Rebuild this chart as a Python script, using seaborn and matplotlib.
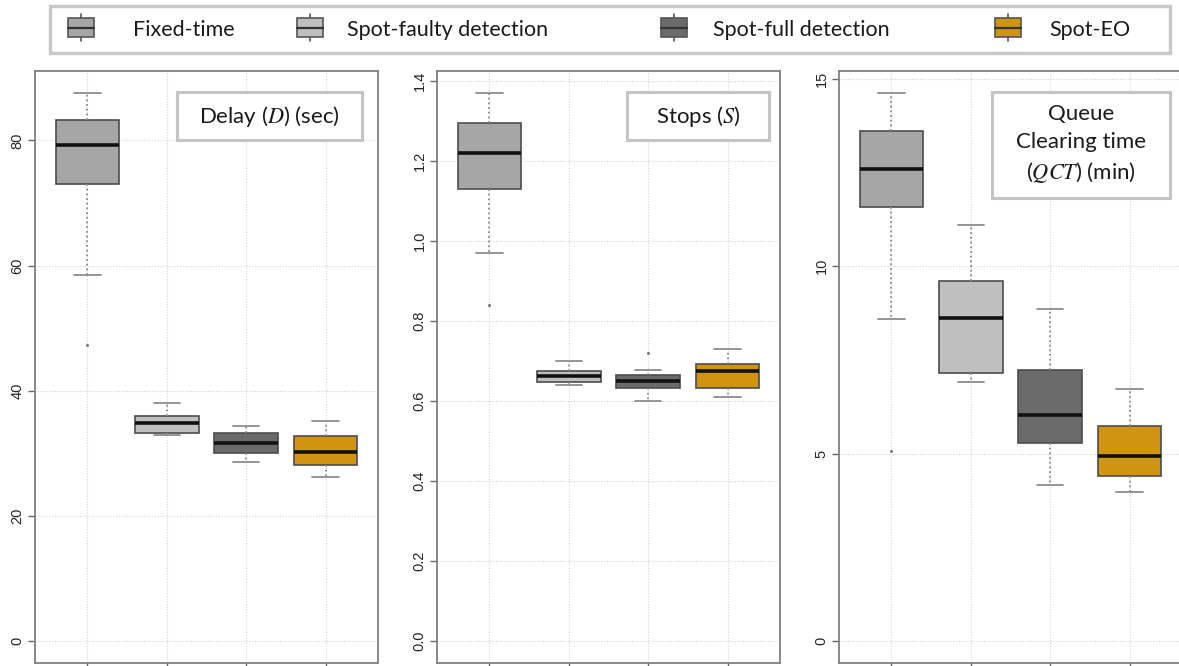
import matplotlib
matplotlib.use("Agg")
import matplotlib.pyplot as plt
from matplotlib.patches import Rectangle
import pandas as pd
import seaborn as sns

# Scenario names and colours
groups = ["Fixed-time", "Spot-faulty detection", "Spot-full detection", "Spot-EO"]
colors = ["#a6a6a6", "#bfbfbf", "#6b6b6b", "#cf950e"]

# Five-number summaries per scenario: [lower whisker, Q1, median, Q3, upper whisker]
delay_summary = [
    [58.5, 73.1, 79.3, 83.2, 87.6],
    [33.0, 33.3, 34.9, 35.9, 38.1],
    [28.6, 30.1, 31.7, 33.2, 34.3],
    [26.3, 28.1, 30.2, 32.8, 35.2],
]
stops_summary = [
    [0.970, 1.128, 1.219, 1.293, 1.369],
    [0.639, 0.648, 0.663, 0.674, 0.700],
    [0.599, 0.632, 0.649, 0.664, 0.678],
    [0.609, 0.632, 0.675, 0.693, 0.729],
]
qct_summary = [
    [8.58, 11.59, 12.60, 13.60, 14.62],
    [6.91, 7.16, 8.63, 9.61, 11.11],
    [4.15, 5.27, 6.02, 7.23, 8.85],
    [3.98, 4.39, 4.94, 5.73, 6.71],
]

# Outlying observations (scenario, value)
delay_outliers = [("Fixed-time", 47.3)]
stops_outliers = [("Fixed-time", 0.839), ("Spot-full detection", 0.719)]
qct_outliers = [("Fixed-time", 5.08)]

# Panel captions and y ticks
delay_title = "Delay ($D$) (sec)"
stops_title = "Stops ($S$)"
qct_title = "Queue\nClearing time\n($QCT$) (min)"
delay_ticks = [0, 20, 40, 60, 80]
stops_ticks = [0.0, 0.2, 0.4, 0.6, 0.8, 1.0, 1.2, 1.4]
qct_ticks = [0, 5, 10, 15]

sns.set_theme(style="white")
plt.rcParams["font.family"] = ["Lato", "DejaVu Sans"]
plt.rcParams["mathtext.fontset"] = "stix"

W, H = 1179, 666
fig = plt.figure(figsize=(W / 100, H / 100), dpi=100)


def long_frame(summary):
    rows = []
    for g, vals in zip(groups, summary):
        for v in vals:
            rows.append({"group": g, "value": v})
    return pd.DataFrame(rows)


def outlier_frame(outliers):
    return pd.DataFrame(outliers, columns=["group", "value"])


def draw_panel(left_px, summary, outliers, ticks, fmt, title, title_box):
    ax = fig.add_axes([left_px / W, 1 - 663 / H, 343 / W, 592 / H])
    df = long_frame(summary)
    sns.boxplot(
        data=df, x="group", y="value", hue="group", order=groups,
        hue_order=groups, palette=colors, saturation=1, legend=False,
        whis=(0, 100), width=0.8, linecolor="#4d4d4d", linewidth=1.2,
        capwidths=0.33, ax=ax,
        medianprops=dict(color="#111111", linewidth=2.6),
        whiskerprops=dict(color="#8c8c8c", linewidth=1.3, linestyle=(0, (1, 1.6))),
        capprops=dict(color="#8c8c8c", linewidth=1.3),
    )
    if outliers:
        sns.stripplot(data=outlier_frame(outliers), x="group", y="value",
                      order=groups, jitter=False, color="#7a7a7a", size=2.2,
                      linewidth=0, ax=ax)
    top = max(max(s) for s in summary)
    ax.set_ylim(-0.04 * top, top * 1.04)
    ax.set_xlim(-0.66, 3.66)
    ax.set_yticks(ticks)
    ax.set_yticklabels([fmt.format(t) for t in ticks], rotation=90,
                       va="center", fontsize=10.5, color="#262626",
                       family="Liberation Sans")
    ax.set_xticks(range(len(groups)))
    ax.set_xticklabels([])
    ax.set_xlabel("")
    ax.set_ylabel("")
    ax.tick_params(axis="both", length=5, width=1, color="#666666",
                   left=True, bottom=True, pad=2.5)
    ax.grid(True, color="#d4d4d4", linestyle=(0, (1, 1.5)), linewidth=0.8)
    ax.set_axisbelow(True)
    for sp in ax.spines.values():
        sp.set_color("#808080")
        sp.set_linewidth(1.3)
    x0, x1, y0, y1 = title_box
    ax.add_patch(Rectangle((x0, y1), x1 - x0, y0 - y1, transform=ax.transAxes,
                           facecolor="white", edgecolor="#c4c4c4", lw=2.2,
                           zorder=10))
    ax.text((x0 + x1) / 2, (y0 + y1) / 2, title, transform=ax.transAxes,
            ha="center", va="center", fontsize=16, color="#1a1a1a",
            linespacing=1.45, zorder=11)
    return ax


draw_panel(35, delay_summary, delay_outliers, delay_ticks, "{:g}",
           delay_title, (0.414, 0.953, 0.9645, 0.8834))
draw_panel(437, stops_summary, stops_outliers, stops_ticks, "{:.1f}",
           stops_title, (0.554, 0.968, 0.9645, 0.8834))
draw_panel(839, qct_summary, qct_outliers, qct_ticks, "{:g}",
           qct_title, (0.446, 0.965, 0.9645, 0.786))

# Legend strip across the top, laid out in pixel units
lg = fig.add_axes([0, 0, 1, 1], facecolor="none")
lg.set_xlim(0, W)
lg.set_ylim(H, 0)
lg.axis("off")
lg.add_patch(Rectangle((50, 6), 1120, 47, facecolor="white",
                       edgecolor="#c8c8c8", lw=2.5))
icon_x = [80.5, 310, 674, 1008]
text_x = [133, 347, 713, 1049]
for g, c, ix, tx in zip(groups, colors, icon_x, text_x):
    lg.plot([ix, ix], [14, 41], color="#555555", lw=1.2)
    lg.add_patch(Rectangle((ix - 13, 18), 26, 19, facecolor=c,
                           edgecolor="#555555", lw=1.2, zorder=3))
    lg.plot([ix - 13, ix + 13], [27.5, 27.5], color="#333333", lw=1.6, zorder=4)
    lg.text(tx, 30, g, ha="left", va="center", fontsize=15.5, color="#1a1a1a")

fig.savefig("out.png", dpi=100)
